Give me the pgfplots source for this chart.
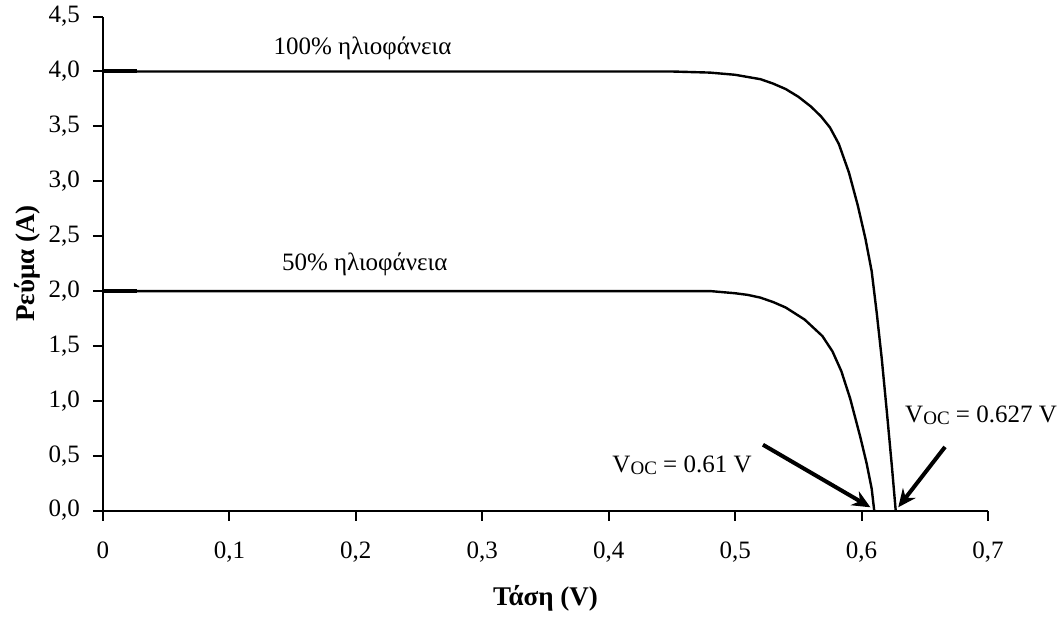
\documentclass[border=0pt]{standalone}
\usepackage{fontspec}
\setmainfont{Liberation Serif}
\usepackage{pgfplots}
\pgfplotsset{compat=1.18}
\usetikzlibrary{arrows.meta}

% I-V curves of a PV cell at two irradiance levels
\pgfplotstableread{
V      I
0      4.00
0.30   4.00
0.45   4.00
0.48   3.99
0.50   3.97
0.52   3.93
0.53   3.89
0.54   3.84
0.55   3.77
0.56   3.68
0.568  3.59
0.575  3.49
0.582  3.34
0.59   3.08
0.597  2.78
0.603  2.48
0.608  2.18
0.612  1.80
0.616  1.38
0.620  0.90
0.624  0.40
0.627  0.00
}\fullsun

\pgfplotstableread{
V      I
0      2.00
0.30   2.00
0.48   2.00
0.50   1.98
0.51   1.965
0.52   1.94
0.53   1.90
0.54   1.85
0.555  1.74
0.569  1.59
0.577  1.45
0.584  1.27
0.591  1.02
0.599  0.67
0.604  0.43
0.608  0.20
0.610  0.00
}\halfsun

\begin{document}
\begin{tikzpicture}
\begin{axis}[
  scale only axis, width=442.5pt, height=247pt,
  xmin=0, xmax=0.7, ymin=0, ymax=4.5,
  axis lines=left,
  axis line style={-, line width=1pt},
  xtick={0,0.1,0.2,0.3,0.4,0.5,0.6,0.7},
  xticklabels={0,{0,1},{0,2},{0,3},{0,4},{0,5},{0,6},{0,7}},
  ytick={0,0.5,1,1.5,2,2.5,3,3.5,4,4.5},
  yticklabels={{0,0},{0,5},{1,0},{1,5},{2,0},{2,5},{3,0},{3,5},{4,0},{4,5}},
  tick align=outside, major tick length=5pt,
  tick style={line width=1pt, black},
  every tick label/.append style={font=\fontsize{12.5}{14}\selectfont},
  xticklabel style={yshift=-7pt},
  yticklabel style={xshift=-3pt},
  xlabel={\bfseries Τάση (V)},
  ylabel={\bfseries Ρεύμα (A)},
  label style={font=\fontsize{13.5}{15}\selectfont},
  xlabel style={at={(axis description cs:0.5,-0.177)}, anchor=center},
  ylabel style={at={(axis description cs:-0.085,0.5)}, anchor=center},
  clip=false,
]
\addplot[black, line width=1.2pt, line join=round] table[x=V, y=I] {\fullsun};
\addplot[black, line width=1.2pt, line join=round] table[x=V, y=I] {\halfsun};
\addplot[black, line width=2pt] coordinates {(0,4.0)(0.027,4.0)};
\addplot[black, line width=2pt] coordinates {(0,2.0)(0.027,2.0)};

\node[font=\fontsize{12.5}{14}\selectfont] at (axis cs:0.2053,4.21) {100\% ηλιοφάνεια};
\node[font=\fontsize{12.5}{14}\selectfont] at (axis cs:0.207,2.24) {50\% ηλιοφάνεια};

\node[font=\fontsize{12.5}{14}\selectfont] at (axis cs:0.458,0.41)
  {V\raisebox{-0.2ex}{\fontsize{9.5}{11}\selectfont OC} = 0.61 V};
\node[font=\fontsize{12.5}{14}\selectfont] at (axis cs:0.6945,0.87)
  {V\raisebox{-0.2ex}{\fontsize{9.5}{11}\selectfont OC} = 0.627 V};

\draw[-{Stealth[length=9pt,width=8pt]}, line width=2pt]
  (axis cs:0.522,0.60) -- (axis cs:0.607,0.03);
\draw[-{Stealth[length=9pt,width=8pt]}, line width=2pt]
  (axis cs:0.666,0.58) -- (axis cs:0.629,0.03);
\end{axis}
\pgfresetboundingbox
\path[use as bounding box] (-51.5pt,-53.15pt) rectangle (479pt,255.3pt);
\end{tikzpicture}
\end{document}
